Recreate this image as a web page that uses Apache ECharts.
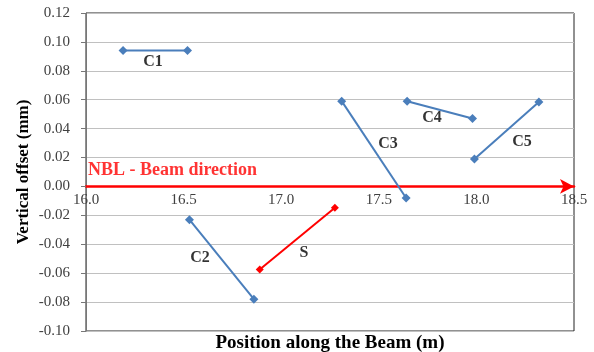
<!DOCTYPE html>
<html><head><meta charset="utf-8">
<script src="https://cdn.jsdelivr.net/npm/echarts@6/dist/echarts.min.js"></script>
<style>html,body{margin:0;padding:0;background:#fff}#c{width:594px;height:352px}</style>
</head><body><div id="c"></div>
<script>
var c1 = [[16.19, 0.094], [16.52, 0.094]];
var c2 = [[16.53, -0.023], [16.86, -0.078]];
var sLine = [[16.89, -0.0575], [17.275, -0.0147]];
var c3 = [[17.31, 0.059], [17.64, -0.008]];
var c4 = [[17.645, 0.059], [17.98, 0.047]];
var c5 = [[17.99, 0.019], [18.32, 0.0585]];
var labelNames = ['C1', 'C2', 'S', 'C3', 'C4', 'C5'];
var labelPos = [[16.343, 0.0863], [16.584, -0.0497], [17.117, -0.0462], [17.547, 0.0295], [17.773, 0.0476], [18.234, 0.0309]];
var beamLabel = 'NBL - Beam direction';
var beamLabelPos = [16.01, 0.0108];
var xTitle = 'Position along the Beam (m)';
var yTitle = 'Vertical offset (mm)';

var FONT = '"Liberation Serif", "DejaVu Serif", serif';
var BLUE = '#4a7ebb';
var GRID_LEFT = 86, GRID_RIGHT = 20, GRID_TOP = 13, GRID_BOTTOM = 21, Y_MIN = -0.1, Y_MAX = 0.12;
var plotH = 352 - GRID_TOP - GRID_BOTTOM;
var zeroOffset = -plotH * (0 - Y_MIN) / (Y_MAX - Y_MIN);
function seg(data, color, size) {
  return {type: 'line', data: data,
    symbol: 'diamond', symbolSize: size, lineStyle: {color: color, width: 2},
    itemStyle: {color: color}, z: 3, animation: false};
}
var chart = echarts.init(document.getElementById('c'));
chart.setOption({
  animation: false,
  graphic: [{type: 'text', x: GRID_LEFT + (594 - GRID_LEFT - GRID_RIGHT) / 2, y: 343,
    style: {text: xTitle, align: 'center', verticalAlign: 'middle',
      font: 'bold 19px ' + FONT, fill: '#000'}}],
  grid: {left: GRID_LEFT, right: GRID_RIGHT, top: GRID_TOP, bottom: GRID_BOTTOM, show: true, borderColor: '#222', borderWidth: 1, backgroundColor: 'transparent'},
  xAxis: {
    type: 'value', min: 16, max: 18.5, interval: 0.5, position: 'bottom', offset: zeroOffset,
    axisLine: {onZero: false, lineStyle: {color: '#ff0000', width: 2.5}, symbol: ['none', 'arrow'], symbolSize: [11, 14]},
    axisTick: {show: false},
    splitLine: {show: false},
    axisLabel: {color: '#404040', fontFamily: FONT, fontSize: 15, margin: 6, formatter: function (v) { return v.toFixed(1); }}
  },
  yAxis: {
    type: 'value', min: Y_MIN, max: Y_MAX, interval: 0.02,
    axisLine: {show: true, onZero: false, lineStyle: {color: '#777'}},
    axisTick: {show: true, length: 5, lineStyle: {color: '#777'}},
    splitLine: {show: true, lineStyle: {color: '#c0c0c0', width: 1}},
    axisLabel: {color: '#404040', fontFamily: FONT, fontSize: 15, margin: 16, formatter: function (v) { return v.toFixed(2); }},
    name: yTitle, nameLocation: 'middle', nameGap: 54, nameRotate: 90, nameMoveOverlap: false,
    nameTextStyle: {fontFamily: FONT, fontSize: 17, fontWeight: 'bold', color: '#000'}
  },
  series: [
    seg(c1, BLUE, 9), seg(c2, BLUE, 9), seg(c3, BLUE, 9), seg(c4, BLUE, 9), seg(c5, BLUE, 9),
    seg(sLine, '#ff0000', 8),
    {type: 'scatter', symbolSize: 0, silent: true, z: 4,
      data: labelPos.map(function (p, i) { return {value: p, name: labelNames[i]}; }),
      label: {show: true, position: 'inside', formatter: '{b}', fontFamily: FONT, fontSize: 16, fontWeight: 'bold', color: '#000'}},
    {type: 'scatter', symbolSize: 0, silent: true, z: 4,
      data: [{value: beamLabelPos, name: beamLabel}],
      label: {show: true, position: 'right', distance: 0, formatter: '{b}', fontFamily: FONT, fontSize: 18, fontWeight: 'bold', color: '#ff0000'}}
  ]
});
</script></body></html>
